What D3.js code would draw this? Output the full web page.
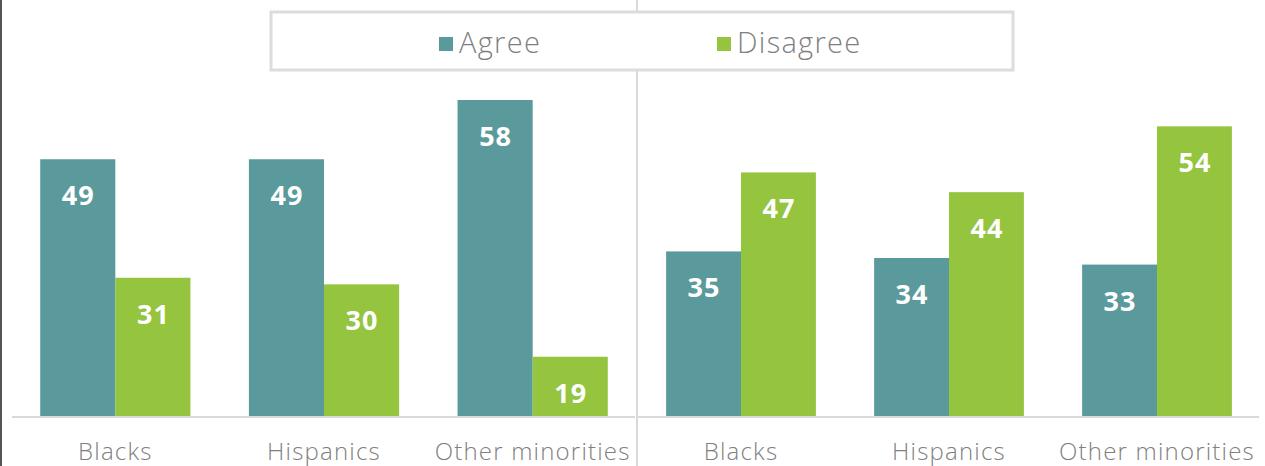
<!DOCTYPE html>
<html>
<head>
<meta charset="utf-8">
<script src="https://cdn.jsdelivr.net/npm/d3@7"></script>
<style>
  html, body { margin: 0; padding: 0; background: #fff; }
  svg { display: block; }
  .cat { font-family: "Open Sans", "Lato", sans-serif; font-weight: 300; font-size: 24px; letter-spacing: 1.2px; fill: #808080; }
  .val { font-family: "Open Sans", "Lato", sans-serif; font-weight: 700; font-size: 27px; letter-spacing: 1px; fill: #fff; }
  .leg { font-family: "Open Sans", "Lato", sans-serif; font-weight: 300; font-size: 29px; letter-spacing: 1.3px; fill: #808080; }
</style>
</head>
<body>
<svg id="chart" width="1265" height="466"></svg>
<script>
// data
const categories = ["Blacks", "Hispanics", "Other minorities"];
const series = ["Agree", "Disagree"];
const leftAgree = [49, 49, 58];
const leftDisagree = [31, 30, 19];
const rightAgree = [35, 34, 33];
const rightDisagree = [47, 44, 54];

const colors = { Agree: "#5b9a9c", Disagree: "#95c43f" };

const svg = d3.select("#chart");
const W = 1265, H = 466;
const baseY = 416;

const y = d3.scaleLinear().domain([10, 70]).range([baseY, 21]);

const panels = [
    { x0: 11, x1: 637, agree: leftAgree, disagree: leftDisagree },
    { x0: 637, x1: 1261, agree: rightAgree, disagree: rightDisagree }
];

// divider behind everything
svg.append("line")
    .attr("x1", 637).attr("x2", 637)
    .attr("y1", 0).attr("y2", H)
    .attr("stroke", "#d9d9d9").attr("stroke-width", 2);

// left frame line
svg.append("line")
    .attr("x1", 1).attr("x2", 1)
    .attr("y1", 0).attr("y2", H)
    .attr("stroke", "#555").attr("stroke-width", 2);

panels.forEach(p => {
    const x = d3.scaleBand()
        .domain(categories)
        .range([p.x0, p.x1])
        .paddingInner(0.28)
        .paddingOuter(0.14);
    const xs = d3.scaleBand().domain(series).range([0, x.bandwidth()]);

    const rows = categories.map((c, i) => ({
        cat: c,
        vals: [
            { key: "Agree", v: p.agree[i] },
            { key: "Disagree", v: p.disagree[i] }
        ]
    }));

    const g = svg.append("g");
    const grp = g.selectAll("g.grp")
        .data(rows)
        .join("g")
        .attr("class", "grp")
        .attr("transform", d => `translate(${x(d.cat)},0)`);

    grp.selectAll("rect")
        .data(d => d.vals)
        .join("rect")
        .attr("x", d => xs(d.key))
        .attr("width", xs.bandwidth())
        .attr("y", d => y(d.v))
        .attr("height", d => baseY - y(d.v))
        .attr("fill", d => colors[d.key]);

    grp.selectAll("text.val")
        .data(d => d.vals)
        .join("text")
        .attr("class", "val")
        .attr("x", d => xs(d.key) + xs.bandwidth() / 2 + 0.5)
        .attr("y", d => y(d.v) + 46)
        .attr("text-anchor", "middle")
        .text(d => d.v);

    // baseline
    g.append("line")
        .attr("x1", p.x0 + 1).attr("x2", p.x1 - 2)
        .attr("y1", baseY + 1).attr("y2", baseY + 1)
        .attr("stroke", "#d9d9d9").attr("stroke-width", 2);

    g.selectAll("text.cat")
        .data(categories)
        .join("text")
        .attr("class", "cat")
        .attr("x", d => x(d) + x.bandwidth() / 2)
        .attr("y", 460)
        .attr("text-anchor", "middle")
        .text(d => d);
});

// legend
const legend = svg.append("g");
legend.append("rect")
    .attr("x", 271).attr("y", 12)
    .attr("width", 742).attr("height", 58)
    .attr("fill", "#fff")
    .attr("stroke", "#dcdcdc").attr("stroke-width", 3);

const legX = { Agree: 439, Disagree: 717 };
series.forEach(s => {
    legend.append("rect")
        .attr("x", legX[s]).attr("y", 37)
        .attr("width", 14).attr("height", 14)
        .attr("fill", colors[s]);
    legend.append("text")
        .attr("class", "leg")
        .attr("x", legX[s] + 20).attr("y", 53)
        .text(s);
});
</script>
</body>
</html>
